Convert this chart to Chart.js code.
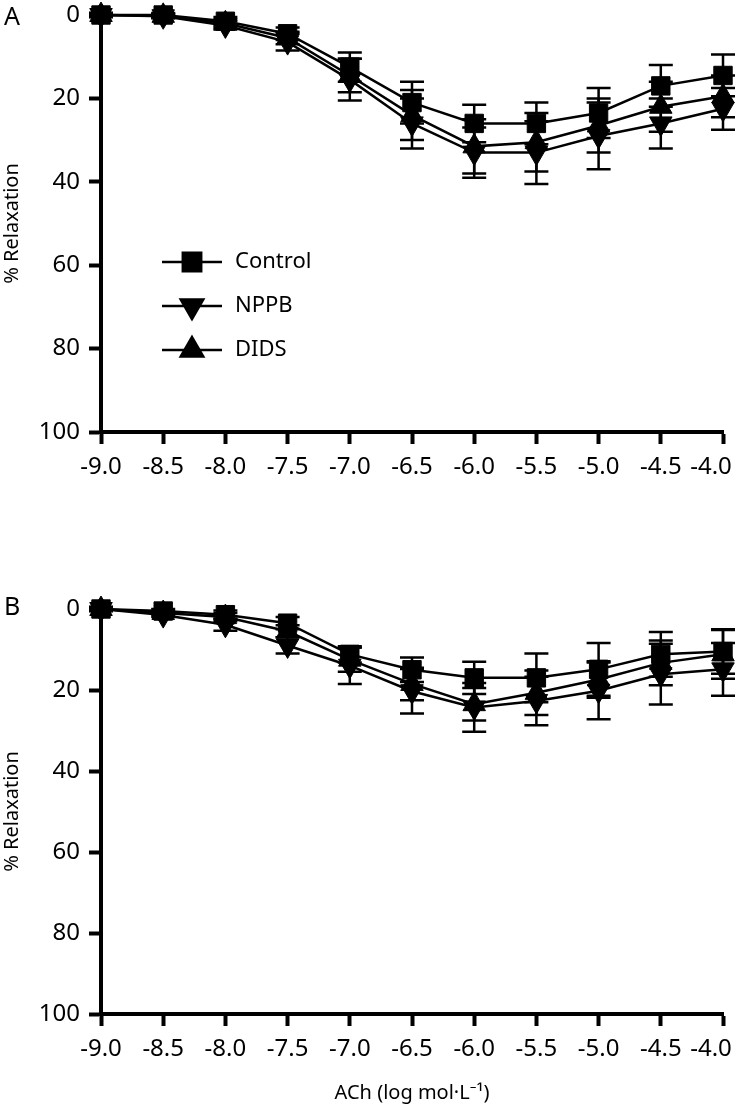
<!DOCTYPE html>
<html>
<head>
<meta charset="utf-8">
<script src="https://cdn.jsdelivr.net/npm/chart.js@4.4.1/dist/chart.umd.min.js"></script>
<style>
  html, body { margin: 0; padding: 0; background: #fff; overflow: hidden; }
  #wrap { position: relative; width: 740px; height: 1110px; }
  canvas { position: absolute; left: 0; }
  #chartA { top: 0; }
  #chartB { top: 560px; }
</style>
</head>
<body>
<div id="wrap">
  <canvas id="chartA" width="740" height="500"></canvas>
  <canvas id="chartB" width="740" height="550"></canvas>
</div>
<script>
// ACh concentration, log mol/L
const logAch = [-9.0, -8.5, -8.0, -7.5, -7.0, -6.5, -6.0, -5.5, -5.0, -4.5, -4.0];
const seriesNames = ['Control', 'NPPB', 'DIDS'];
const yTicks = [0, 20, 40, 60, 80, 100];

// panel A  (% relaxation, mean and SEM)
const ctrlA    = [0, 0, 1.5, 4.5, 12.5, 21, 26, 26, 23.5, 17, 14.5];
const ctrlAErr = [0.5, 0.5, 1, 1.5, 3.5, 5, 4.5, 5, 6, 5, 5];
const nppbA    = [0, 0.3, 2.5, 6.5, 15.5, 26, 33, 33, 29, 26, 22.5];
const nppbAErr = [0.5, 0.5, 1, 2, 5, 6, 6, 7.5, 8, 6, 5];
const didsA    = [0, 0.2, 2, 5.5, 14.5, 24, 31.5, 30.5, 26.5, 22, 19.5];
const didsAErr = [0.5, 0.5, 1, 1.5, 4, 6, 6.5, 7, 6.5, 6, 5];

// panel B
const ctrlB    = [0, 0.5, 1.4, 3.5, 11.2, 15, 17, 17, 14.9, 11.2, 10.5];
const ctrlBErr = [0.5, 0.5, 1, 1.5, 2, 3, 4, 6, 6.5, 5.5, 5.5];
const nppbB    = [0, 1.5, 3.9, 9, 14, 20.3, 24.3, 22.7, 20.2, 16.1, 14.9];
const nppbBErr = [0.5, 0.5, 1.5, 2, 4.5, 5.5, 6, 6, 7, 7.5, 6.5];
const didsB    = [0, 1, 2, 5.5, 12.5, 18.5, 23.5, 20.7, 17.4, 13.3, 11.2];
const didsBErr = [0.5, 0.5, 1, 1.5, 3, 4, 4, 5.5, 4.5, 5.5, 6];

const FONT = '"Noto Sans", "DejaVu Sans", sans-serif';
const markers = [
  { pointStyle: 'rect', rotation: 0 },
  { pointStyle: 'triangle', rotation: 180 },
  { pointStyle: 'triangle', rotation: 0 }
];

const errorBars = {
  id: 'errorBars',
  beforeDatasetsDraw(chart) {
    const { ctx, scales: { y } } = chart;
    ctx.save();
    ctx.strokeStyle = '#000';
    ctx.lineWidth = 2.5;
    chart.data.datasets.forEach((ds, i) => {
      const meta = chart.getDatasetMeta(i);
      meta.data.forEach((pt, j) => {
        const v = ds.data[j].y, e = ds.err[j];
        const top = y.getPixelForValue(v - e), bot = y.getPixelForValue(v + e);
        ctx.beginPath();
        ctx.moveTo(pt.x, top); ctx.lineTo(pt.x, bot);
        ctx.moveTo(pt.x - 12, top); ctx.lineTo(pt.x + 12, top);
        ctx.moveTo(pt.x - 12, bot); ctx.lineTo(pt.x + 12, bot);
        ctx.stroke();
      });
    });
    ctx.restore();
  }
};

const extras = {
  id: 'extras',
  afterDraw(chart, args, opts) {
    const ctx = chart.ctx;
    ctx.save();
    ctx.fillStyle = '#000';
    ctx.font = '25px ' + FONT;
    ctx.textBaseline = 'middle';
    ctx.fillText(opts.letter, 4, opts.letterY);
    if (opts.legend) {
      ctx.font = '22px ' + FONT;
      chart.data.datasets.forEach((ds, i) => {
        const yy = 262 + i * 44;
        ctx.strokeStyle = '#000';
        ctx.lineWidth = 2.5;
        ctx.beginPath(); ctx.moveTo(162, yy); ctx.lineTo(222, yy); ctx.stroke();
        Chart.helpers.drawPoint(ctx, {
          pointStyle: markers[i].pointStyle, rotation: markers[i].rotation,
          radius: 13, borderWidth: 1
        }, 192, yy);
        ctx.fillText(ds.label, 235, yy);
      });
    }
    ctx.restore();
  }
};

function makeSets(vals, errs) {
  return vals.map((v, i) => ({
    label: seriesNames[i],
    data: logAch.map((x, j) => ({ x, y: v[j] })),
    err: errs[i],
    borderColor: '#000',
    backgroundColor: '#000',
    borderWidth: 2.5,
    pointStyle: markers[i].pointStyle,
    pointRotation: markers[i].rotation,
    pointRadius: 13,
    pointBorderWidth: 1,
    clip: false
  }));
}

// last x label sits a little inside the right edge, like the original
const xLabel = (v, i, arr) => Number(v).toFixed(1) + (i === arr.length - 1 ? '\u2003' : '');

function build(id, sets, cfg) {
  return new Chart(document.getElementById(id), {
    type: 'line',
    data: { datasets: sets },
    options: {
      responsive: false,
      animation: false,
      layout: { padding: { top: cfg.top, right: 0, left: 0, bottom: 0 } },
      plugins: {
        legend: { display: false },
        tooltip: { enabled: false },
        extras: { letter: cfg.letter, letterY: cfg.letterY, legend: cfg.legend }
      },
      scales: {
        x: {
          type: 'linear', min: -9, max: -4,
          afterFit: s => { s.height = cfg.xh; s.paddingRight = 17; s.paddingLeft = 0; },
          ticks: { stepSize: 0.5, color: '#000', font: { family: FONT, size: 24 }, padding: 9,
                   maxRotation: 0, autoSkip: false, callback: xLabel },
          grid: { drawOnChartArea: false, drawTicks: true, tickLength: 12, tickWidth: 4, tickColor: '#000' },
          border: { width: 4, color: '#000' },
          title: { display: !!cfg.xTitle, text: cfg.xTitle, color: '#000',
                   font: { family: FONT, size: 20 }, padding: { top: 0, bottom: 5 } }
        },
        y: {
          min: 0, max: 100, reverse: true,
          afterFit: s => { s.width = 101; s.paddingTop = 0; s.paddingBottom = 0; },
          afterBuildTicks: s => { s.ticks = yTicks.map(v => ({ value: v })); },
          ticks: { color: '#000', font: { family: FONT, size: 24 }, padding: 9 },
          grid: { drawOnChartArea: false, drawTicks: true, tickLength: 12, tickWidth: 4, tickColor: '#000' },
          border: { width: 4, color: '#000' },
          title: { display: true, text: '% Relaxation', color: '#000',
                   font: { family: FONT, size: 20 }, padding: { top: 0, bottom: 0 } }
        }
      }
    },
    plugins: [errorBars, extras]
  });
}

build('chartA', makeSets([ctrlA, nppbA, didsA], [ctrlAErr, nppbAErr, didsAErr]),
      { top: 15, xh: 68, letter: 'A', letterY: 18, legend: true, xTitle: '' });
build('chartB', makeSets([ctrlB, nppbB, didsB], [ctrlBErr, nppbBErr, didsBErr]),
      { top: 49, xh: 96, letter: 'B', letterY: 48, legend: false, xTitle: 'ACh (log mol\u00B7L\u207B\u00B9)' });
</script>
</body>
</html>
